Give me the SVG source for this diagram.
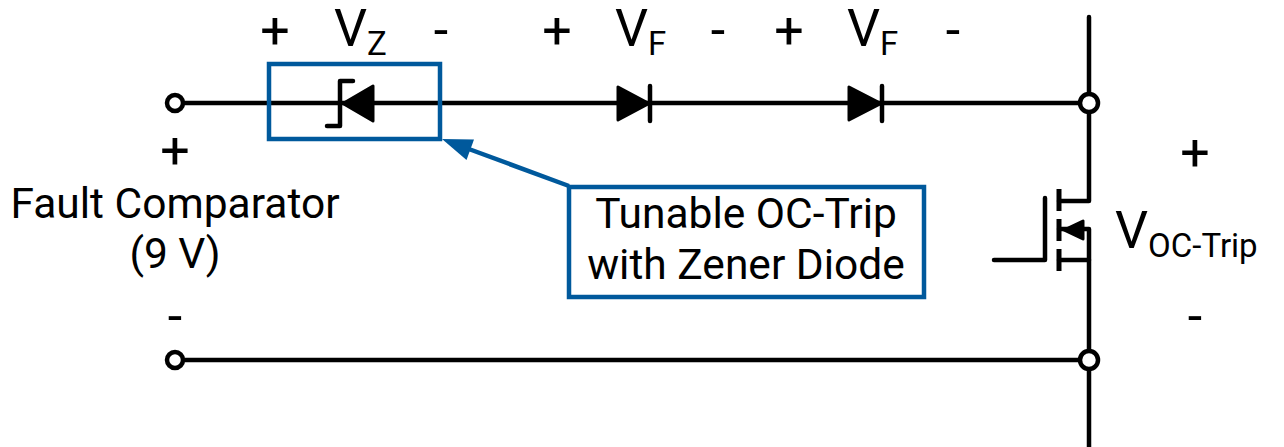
<svg xmlns="http://www.w3.org/2000/svg" width="1284" height="447" viewBox="0 0 1284 447">
<style>
.w{fill:none;stroke:#000;stroke-width:4.5;stroke-linecap:round;stroke-linejoin:round}
.t{font-family:Roboto,"Liberation Sans",sans-serif;fill:#000}
.big{font-size:52px}
.sub{font-size:33px}
.lbl{font-size:42.5px}
.blue{fill:none;stroke:#00599c;stroke-width:4.5;stroke-linejoin:miter}
.term{fill:#fff;stroke:#000;stroke-width:4.5}
.solid{fill:#000;stroke:#000;stroke-width:3;stroke-linejoin:round}
</style>
<rect width="1284" height="447" fill="#fff"/>
<g id="connectors">
  <line class="w" x1="175" y1="103" x2="1089" y2="103"/>
  <line class="w" x1="175" y1="360" x2="1089" y2="360"/>
  <polyline class="w" points="1089,17 1089,201 1059,201"/>
  <polyline class="w" points="1059,229 1089,229 1089,447"/>
  <line class="w" x1="1059" y1="260" x2="1089" y2="260"/>
  <line x1="569" y1="186" x2="462" y2="146.5" stroke="#00599c" stroke-width="4.5"/>
  <polygon points="442,139 474,139.5 466.5,160" fill="#00599c"/>
</g>
<g id="term-left-top"><circle class="term" cx="175" cy="103" r="8"/></g>
<g id="term-left-bottom"><circle class="term" cx="175" cy="360" r="8"/></g>
<g id="term-right-top"><circle class="term" cx="1089" cy="103" r="9"/></g>
<g id="term-right-bottom"><circle class="term" cx="1089" cy="360" r="9"/></g>
<g id="zener">
  <polygon class="solid" points="373,86 373,121 343,103.5"/>
  <polyline class="w" points="353,81 340,81 340,126 327,126"/>
  <rect class="blue" x="269" y="64" width="171" height="75"/>
</g>
<g id="diode1">
  <polygon class="solid" points="618,87 618,120 649,103.5"/>
  <line class="w" x1="650" y1="86" x2="650" y2="121"/>
</g>
<g id="diode2">
  <polygon class="solid" points="849,87 849,120 881,103.5"/>
  <line class="w" x1="882" y1="86" x2="882" y2="121"/>
</g>
<g id="mosfet">
  <polyline class="w" points="994,260 1045,260 1045,198"/>
  <line class="w" x1="1059" y1="189" x2="1059" y2="211" style="stroke-linecap:butt;stroke-width:5"/>
  <line class="w" x1="1059" y1="219" x2="1059" y2="241" style="stroke-linecap:butt;stroke-width:5"/>
  <line class="w" x1="1059" y1="249" x2="1059" y2="271" style="stroke-linecap:butt;stroke-width:5"/>
  <polygon class="solid" points="1064,230 1083,221 1083,239"/>
</g>
<g id="labels-top">
  <text class="t big" x="275" y="48" text-anchor="middle">+</text>
  <text class="t" x="334" y="46"><tspan class="big">V</tspan><tspan class="sub" dy="9">Z</tspan></text>
  <text class="t big" x="441" y="48" text-anchor="middle">-</text>
  <text class="t big" x="557" y="48" text-anchor="middle">+</text>
  <text class="t" x="615" y="46"><tspan class="big">V</tspan><tspan class="sub" dy="9">F</tspan></text>
  <text class="t big" x="718" y="48" text-anchor="middle">-</text>
  <text class="t big" x="789" y="48" text-anchor="middle">+</text>
  <text class="t" x="847" y="46"><tspan class="big">V</tspan><tspan class="sub" dy="9">F</tspan></text>
  <text class="t big" x="953" y="48" text-anchor="middle">-</text>
</g>
<g id="source">
  <text class="t big" x="175" y="168" text-anchor="middle">+</text>
  <text class="t lbl" x="175" y="218" text-anchor="middle">Fault Comparator</text>
  <text class="t lbl" x="175" y="268" text-anchor="middle">(9 V)</text>
  <text class="t big" x="175" y="334" text-anchor="middle">-</text>
</g>
<g id="output">
  <text class="t big" x="1195" y="170" text-anchor="middle">+</text>
  <text class="t" x="1115" y="248"><tspan class="big">V</tspan><tspan class="sub" dy="9">OC-Trip</tspan></text>
  <text class="t big" x="1195" y="334" text-anchor="middle">-</text>
</g>
<g id="callout">
  <rect class="blue" x="569" y="187" width="355" height="110"/>
  <text class="t lbl" x="746" y="228" text-anchor="middle">Tunable OC-Trip</text>
  <text class="t lbl" x="746" y="279" text-anchor="middle">with Zener Diode</text>
</g>
</svg>
